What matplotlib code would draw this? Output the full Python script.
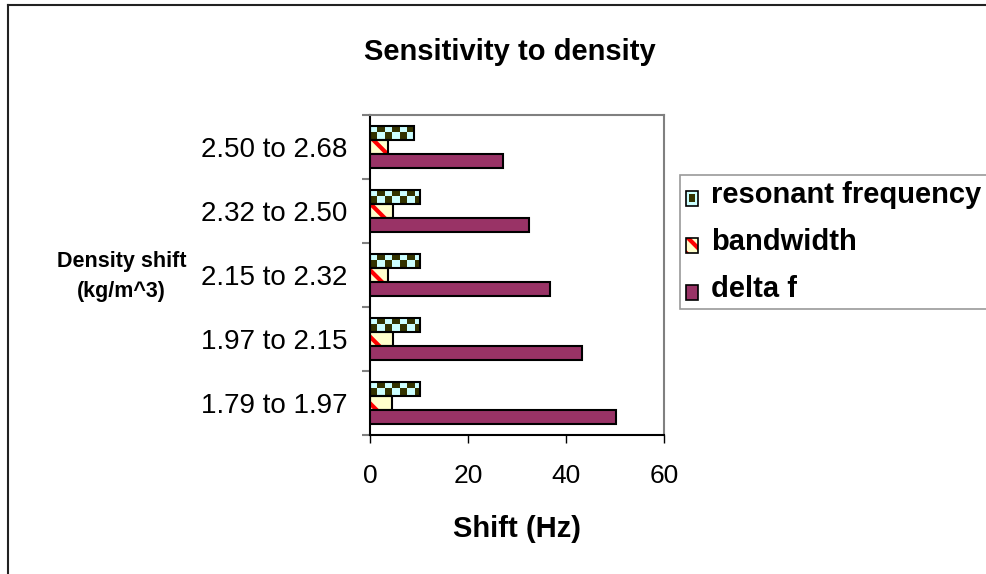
import numpy as np
import matplotlib
matplotlib.use("Agg")
import matplotlib.pyplot as plt
from matplotlib.colors import ListedColormap
from matplotlib.patches import Patch, Rectangle
from matplotlib.lines import Line2D

# Frequency shifts (Hz) per density interval
categories = ["1.79 to 1.97", "1.97 to 2.15", "2.15 to 2.32", "2.32 to 2.50", "2.50 to 2.68"]
resonant = [10.3, 10.3, 10.3, 10.3, 9.0]
bandwidth = [4.5, 4.6, 3.7, 4.6, 3.7]
delta_f = [50.3, 43.3, 36.8, 32.4, 27.1]
series_names = ["resonant frequency", "bandwidth", "delta f"]
x_ticks = [0, 20, 40, 60]

CYAN = "#CCFFFF"
OLIVE = "#333300"
CREAM = "#FFFFCC"
STRIPE = "#FF0000"
PLUM = "#993366"

plt.rcParams["font.family"] = ["Liberation Sans", "DejaVu Sans"]
plt.rcParams["hatch.linewidth"] = 3.0

fig = plt.figure(figsize=(9.87, 5.74), dpi=100)
ax = fig.add_axes([370 / 987, 1 - 435 / 574, 294 / 987, 320 / 574])

y = np.arange(len(categories))
h = 0.22

# resonant frequency: cyan base with an olive checkerboard clipped to each bar
res_bars = ax.barh(y + h, resonant, height=h, color=CYAN, linewidth=0, zorder=2)
cell = 1.5
checker_cmap = ListedColormap([CYAN, OLIVE])
for bar in res_bars:
    ncols = int(np.ceil(bar.get_width() / cell))
    grid = (np.arange(2)[:, None] + np.arange(ncols)[None, :]) % 2
    y0 = bar.get_y()
    im = ax.imshow(grid, cmap=checker_cmap, interpolation="nearest", aspect="auto",
                   extent=(0, ncols * cell, y0, y0 + bar.get_height()), zorder=2.5)
    im.set_clip_path(bar)
ax.barh(y + h, resonant, height=h, fill=False, edgecolor="black", linewidth=1.5, zorder=3)

# bandwidth: red diagonal stripes on cream
ax.barh(y, bandwidth, height=h, color=CREAM, edgecolor=STRIPE, hatch="\\", linewidth=0, zorder=2)
ax.barh(y, bandwidth, height=h, fill=False, edgecolor="black", linewidth=1.5, zorder=3)

# delta f: solid plum
ax.barh(y - h, delta_f, height=h, color=PLUM, edgecolor="black", linewidth=1.5, zorder=3)

ax.set_xlim(0, 60)
ax.set_ylim(-0.5, len(categories) - 0.5)
ax.set_xticks(x_ticks)
ax.set_xticklabels([str(t) for t in x_ticks], fontsize=19)
ax.tick_params(axis="x", direction="out", length=6, width=1, color="black", pad=15)

ax.set_yticks(y)
ax.set_yticklabels(categories, fontsize=20)
ax.set_yticks(np.arange(len(categories) + 1) - 0.5, minor=True)
ax.tick_params(axis="y", which="major", length=0, pad=16)
ax.tick_params(axis="y", which="minor", direction="out", length=6, width=1.5, color="#808080")

for side in ["top", "right"]:
    ax.spines[side].set_color("#808080")
    ax.spines[side].set_linewidth(1.5)
ax.spines["left"].set_color("black")
ax.spines["bottom"].set_color("black")
ax.spines["left"].set_linewidth(1.5)
ax.spines["bottom"].set_linewidth(1.5)

# titles and axis captions
fig.text(509.5 / 987, 1 - 60 / 574, "Sensitivity to density", ha="center", va="baseline",
         fontsize=21, fontweight="bold")
fig.text(517 / 987, 1 - 537 / 574, "Shift (Hz)", ha="center", va="baseline",
         fontsize=21, fontweight="bold")
fig.text(121.5 / 987, 1 - 266.7 / 574, "Density shift", ha="center", va="baseline",
         fontsize=15.5, fontweight="bold")
fig.text(121.5 / 987, 1 - 297 / 574, "(kg/m^3)", ha="center", va="baseline",
         fontsize=15.5, fontweight="bold")


class SwatchHandler:
    def __init__(self, face, hatch=None, hatch_color=None, inner=None):
        self.face = face
        self.hatch = hatch
        self.hatch_color = hatch_color
        self.inner = inner

    def legend_artist(self, legend, orig_handle, fontsize, handlebox):
        x0, y0 = handlebox.xdescent, handlebox.ydescent
        w, hh = handlebox.width, handlebox.height
        tr = handlebox.get_transform()
        base = Rectangle((x0, y0), w, hh, facecolor=self.face, linewidth=0,
                         hatch=self.hatch, edgecolor=self.hatch_color or self.face, transform=tr)
        handlebox.add_artist(base)
        if self.inner:
            handlebox.add_artist(Rectangle((x0 + w * 0.22, y0 + hh * 0.22), w * 0.56, hh * 0.56,
                                           facecolor=self.inner, linewidth=0, transform=tr))
        outline = Rectangle((x0, y0), w, hh, fill=False, edgecolor="black", linewidth=1.2, transform=tr)
        handlebox.add_artist(outline)
        return outline


handles = [Patch(label=n) for n in series_names]
handler_map = {
    handles[0]: SwatchHandler(CYAN, inner=OLIVE),
    handles[1]: SwatchHandler(CREAM, hatch="\\\\", hatch_color=STRIPE),
    handles[2]: SwatchHandler(PLUM),
}
leg = fig.legend(handles=handles, handler_map=handler_map, loc="upper left",
                 bbox_to_anchor=(680 / 987, 1 - 175 / 574), borderaxespad=0,
                 prop={"weight": "bold", "size": 21}, frameon=True, fancybox=False,
                 borderpad=0.2, labelspacing=0.65, handlelength=0.42, handleheight=0.42,
                 handletextpad=0.45)
leg.get_frame().set_edgecolor("#808080")
leg.get_frame().set_linewidth(1.2)

# outer chart border (runs off the right and bottom edges)
fig.add_artist(Line2D([8 / 987, 1.0], [1 - 5 / 574, 1 - 5 / 574], transform=fig.transFigure,
                      color="#222222", linewidth=1.5))
fig.add_artist(Line2D([8 / 987, 8 / 987], [0.0, 1 - 5 / 574], transform=fig.transFigure,
                      color="#222222", linewidth=1.5))

fig.savefig("out.png", dpi=100)
